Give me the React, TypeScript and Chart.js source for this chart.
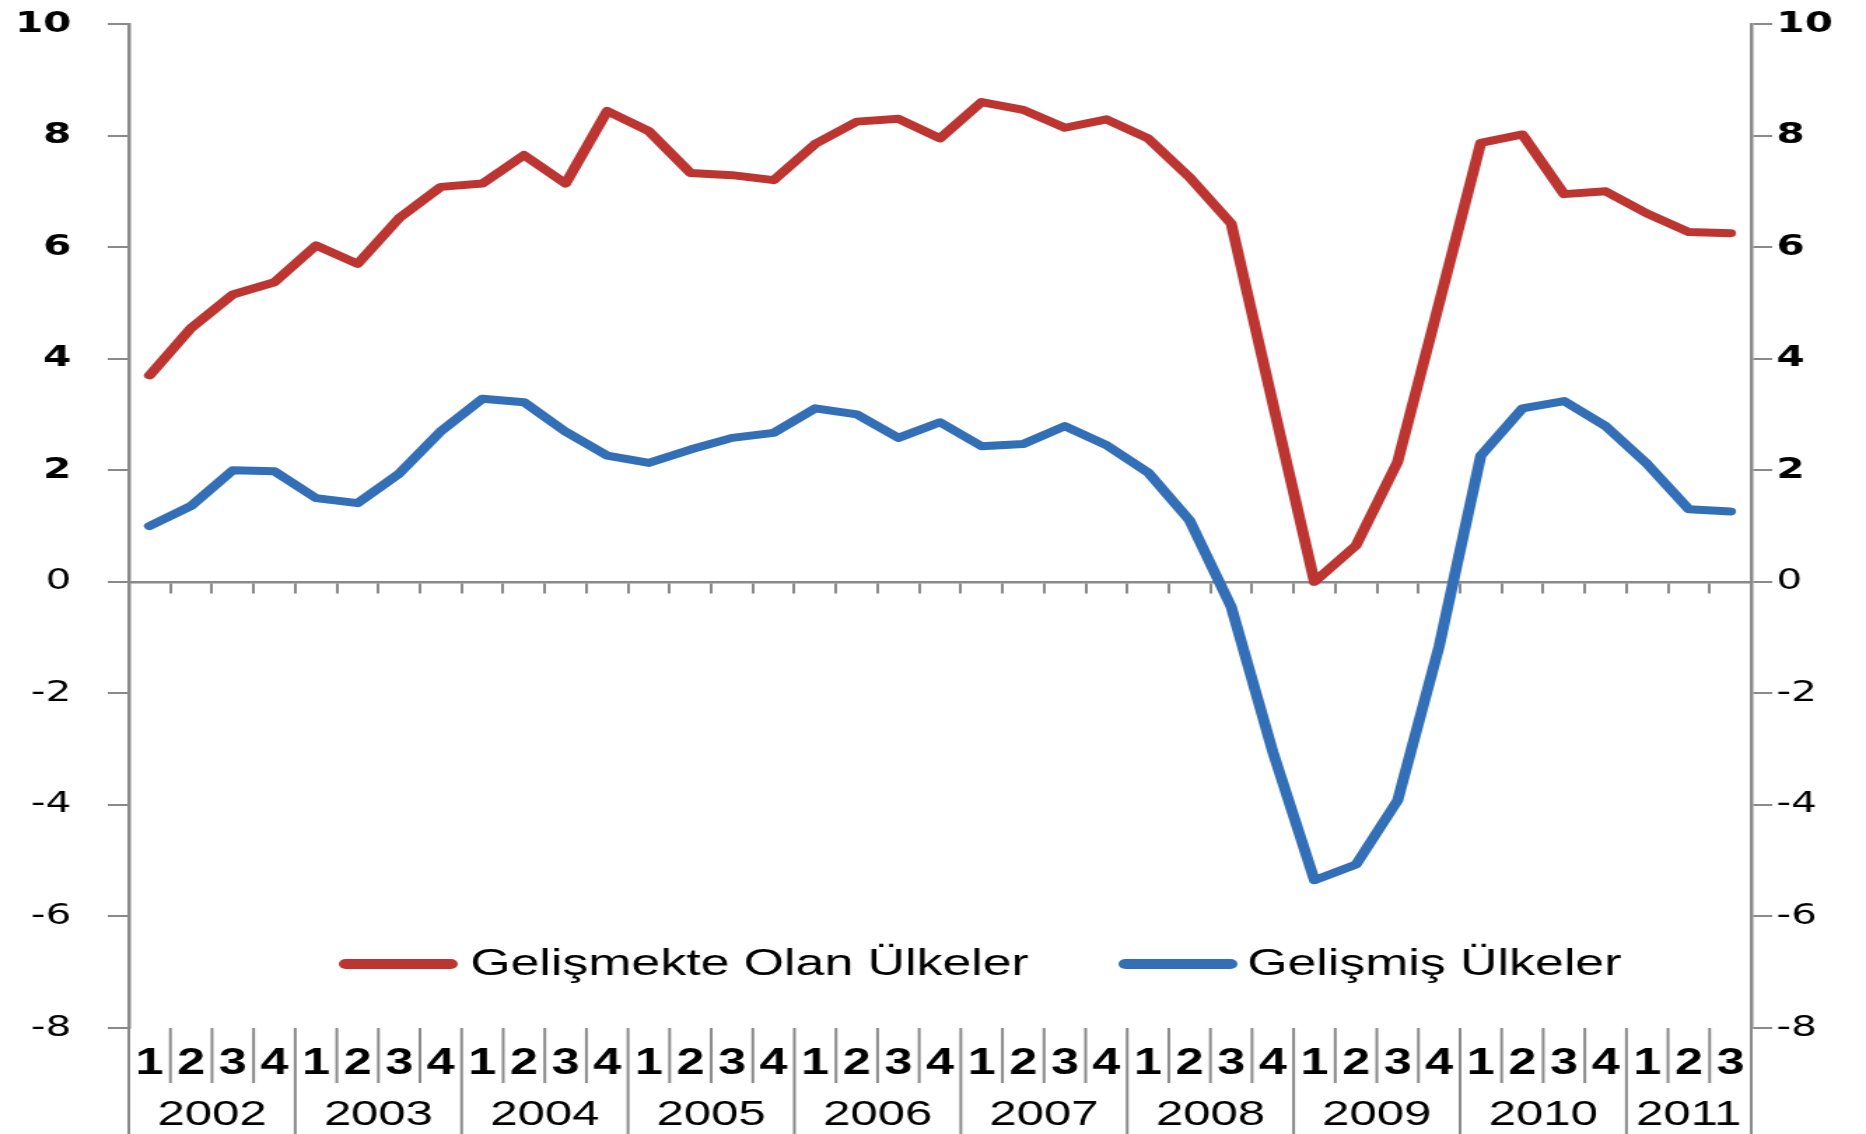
import React, { useEffect, useRef } from 'react';
import { Chart, registerables } from 'chart.js';

Chart.register(...registerables);

// ---- data ----
const years = ['2002', '2003', '2004', '2005', '2006', '2007', '2008', '2009', '2010', '2011'];
const quartersPerYear = [4, 4, 4, 4, 4, 4, 4, 4, 4, 3];
const quarterLabels = [
  '1', '2', '3', '4', '1', '2', '3', '4', '1', '2', '3', '4', '1', '2', '3', '4',
  '1', '2', '3', '4', '1', '2', '3', '4', '1', '2', '3', '4', '1', '2', '3', '4',
  '1', '2', '3', '4', '1', '2', '3',
];
const seriesNames = ['Gelişmekte Olan Ülkeler', 'Gelişmiş Ülkeler'];
const developing = [
  3.7, 4.55, 5.15, 5.37, 6.03, 5.7, 6.52, 7.08, 7.14, 7.65, 7.14, 8.44, 8.08, 7.33, 7.29, 7.2,
  7.85, 8.25, 8.3, 7.95, 8.6, 8.46, 8.14, 8.29, 7.95, 7.25, 6.42, 3.2, 0.0, 0.65, 2.15, 5.0,
  7.87, 8.02, 6.95, 7.0, 6.6, 6.27, 6.25,
];
const developed = [
  1.0, 1.36, 2.0, 1.98, 1.5, 1.41, 1.94, 2.7, 3.28, 3.22, 2.69, 2.26, 2.13, 2.37, 2.58, 2.67,
  3.11, 3.0, 2.58, 2.86, 2.43, 2.47, 2.79, 2.45, 1.96, 1.1, -0.45, -3.05, -5.35, -5.07, -3.92, -1.15,
  2.26, 3.11, 3.24, 2.79, 2.11, 1.3, 1.26,
];
const yMin = -8;
const yMax = 10;
const yStep = 2;

// ---- styling ----
const STRETCH = 1.4;
const FULL_W = 1866;
const FULL_H = 1134;
const W = Math.round(FULL_W / STRETCH);
const H = FULL_H;
const GREY = '#8a8a8a';
const RED = '#BC3531';
const BLUE = '#326FB6';
const seriesColors = [RED, BLUE];

const yFont = (ctx: any) => ({
  family: 'DejaVu Sans',
  size: 29,
  weight: ctx && ctx.tick && ctx.tick.value > 0 ? 'bold' : 'normal',
});

const noPad = (s: any) => {
  s.paddingTop = 0;
  s.paddingBottom = 0;
  s.paddingLeft = 0;
  s.paddingRight = 0;
};

const bottomPlugin = {
  id: 'bottomLabels',
  afterDraw(chart: any) {
    const { ctx, chartArea: ca, scales } = chart;
    const xs = scales.x;
    const bottom = chart.height;
    ctx.save();
    ctx.strokeStyle = GREY;
    ctx.lineWidth = 2;
    ctx.fillStyle = '#000';
    ctx.font = 'normal 35px "Liberation Sans"';
    ctx.textAlign = 'center';
    ctx.textBaseline = 'middle';
    const line = (x1: number, y1: number, x2: number, y2: number) => {
      ctx.beginPath();
      ctx.moveTo(x1, y1);
      ctx.lineTo(x2, y2);
      ctx.stroke();
    };
    let idx = 0;
    for (let i = 0; i < years.length; i++) {
      const n = quartersPerYear[i];
      const start = idx;
      const end = idx + n - 1;
      const bx = xs.getPixelForValue(start - 0.5);
      line(bx, ca.bottom, bx, bottom);
      for (let q = 1; q < n; q++) {
        const qx = xs.getPixelForValue(start + q - 0.5);
        line(qx, ca.bottom, qx, ca.bottom + 55);
      }
      const cx = (xs.getPixelForValue(start) + xs.getPixelForValue(end)) / 2;
      ctx.fillText(years[i], cx, ca.bottom + 87);
      idx += n;
    }
    const ex = xs.getPixelForValue(idx - 0.5);
    line(ex, ca.bottom, ex, bottom);
    ctx.restore();
  },
};

const legendPlugin = {
  id: 'innerLegend',
  afterDraw(chart: any) {
    const { ctx } = chart;
    const y = 964;
    const items = [
      { x1: 247, x2: 322, tx: 336 },
      { x1: 804, x2: 879, tx: 891 },
    ];
    ctx.save();
    chart.data.datasets.forEach((ds: any, i: number) => {
      const it = items[i];
      ctx.strokeStyle = ds.borderColor;
      ctx.lineWidth = 10;
      ctx.lineCap = 'round';
      ctx.beginPath();
      ctx.moveTo(it.x1, y);
      ctx.lineTo(it.x2, y);
      ctx.stroke();
      ctx.fillStyle = '#000';
      ctx.font = 'normal 37px "Liberation Sans"';
      ctx.textAlign = 'left';
      ctx.textBaseline = 'middle';
      ctx.fillText(ds.label, it.tx, y + 1);
    });
    ctx.restore();
  },
};

export default function App() {
  const ref = useRef<HTMLCanvasElement>(null);
  useEffect(() => {
    const canvas = ref.current;
    if (!canvas) return;
    const lineDs = (i: number, data: number[]) => ({
      label: seriesNames[i],
      data,
      borderColor: seriesColors[i],
      backgroundColor: seriesColors[i],
      borderWidth: 8,
      pointRadius: 0,
      tension: 0,
      borderJoinStyle: 'round',
      borderCapStyle: 'round',
      xAxisID: 'x',
      yAxisID: 'y',
    });
    const chart = new Chart(canvas, {
      type: 'line',
      data: {
        labels: quarterLabels,
        datasets: [lineDs(0, developing), lineDs(1, developed)],
      },
      options: {
        responsive: false,
        animation: false,
        devicePixelRatio: 1,
        layout: { padding: { top: 24, left: 0, right: 0, bottom: 0 } },
        plugins: { legend: { display: false }, tooltip: { enabled: false } },
        scales: {
          x: {
            type: 'category',
            position: 'bottom',
            offset: true,
            grid: { display: false, drawTicks: false },
            border: { display: false },
            ticks: {
              autoSkip: false,
              maxRotation: 0,
              minRotation: 0,
              padding: 14,
              color: '#000',
              font: { family: 'Liberation Sans', size: 36, weight: 'bold' },
            },
            afterFit: (s: any) => {
              s.height = 106;
              noPad(s);
            },
          },
          x0: {
            type: 'category',
            axis: 'x',
            position: { y: 0 },
            offset: true,
            grid: {
              display: true,
              offset: true,
              drawOnChartArea: false,
              drawTicks: true,
              tickLength: 10,
              color: GREY,
              lineWidth: 2,
            },
            border: { display: true, color: GREY, width: 2.5 },
            ticks: { display: false, autoSkip: false },
            afterFit: (s: any) => {
              noPad(s);
            },
          },
          y: {
            type: 'linear',
            position: 'left',
            min: yMin,
            max: yMax,
            ticks: { stepSize: yStep, padding: 26, color: '#000', font: yFont },
            grid: {
              display: true,
              drawOnChartArea: false,
              drawTicks: true,
              tickLength: 15,
              color: GREY,
              lineWidth: 2,
            },
            border: { display: true, color: GREY, width: 2.5 },
            afterFit: (s: any) => {
              s.width = 92;
              noPad(s);
            },
          },
          y2: {
            type: 'linear',
            position: 'right',
            min: yMin,
            max: yMax,
            ticks: { stepSize: yStep, padding: 3, color: '#000', font: yFont },
            grid: {
              display: true,
              drawOnChartArea: false,
              drawTicks: true,
              tickLength: 15,
              color: GREY,
              lineWidth: 2,
            },
            border: { display: true, color: GREY, width: 2.5 },
            afterFit: (s: any) => {
              s.width = 82;
              noPad(s);
            },
          },
        },
      } as any,
      plugins: [bottomPlugin, legendPlugin],
    });
    return () => chart.destroy();
  }, []);

  return (
    <div
      style={{
        position: 'absolute',
        left: 0,
        top: 0,
        width: FULL_W,
        height: FULL_H,
        background: '#fff',
        overflow: 'hidden',
      }}
    >
      <canvas
        ref={ref}
        width={W}
        height={H}
        style={{ width: `${FULL_W}px`, height: `${FULL_H}px`, display: 'block' }}
      />
    </div>
  );
}
